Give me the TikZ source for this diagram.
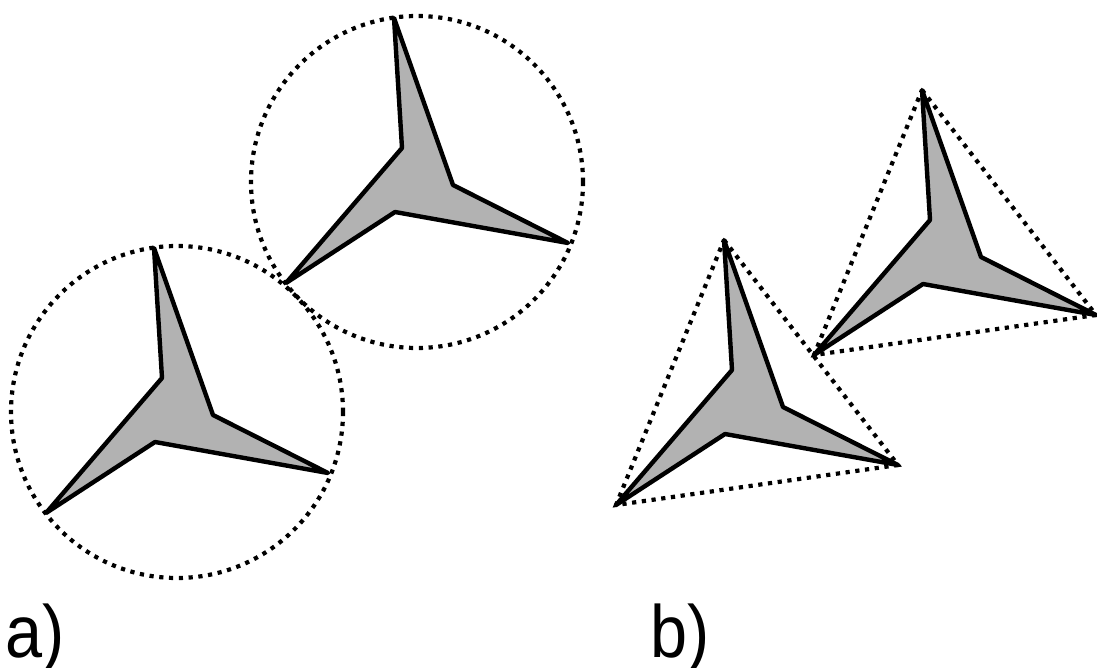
\documentclass[tikz,border=0pt]{standalone}
\usepackage{fontspec}
\setmainfont{Liberation Sans}

\begin{document}
\begin{tikzpicture}[
    x=1pt, y=-1pt,
    star/.style={draw, line width=4.4pt, line join=round, fill=black!30},
    hull/.style={line width=4.2pt, dash pattern=on 4.2pt off 5.6pt},
    lbl/.style={font=\fontsize{74}{80}\selectfont, anchor=base west, inner sep=0pt, xscale=0.9}
  ]
    \useasboundingbox (0,0) rectangle (1097,668);

    % a) each star inside its circle
    \foreach \n/\cx/\cy in {a1/177/412, a2/417/182} {
      \begin{scope}[shift={(\cx,\cy)}]
        \coordinate (\n-t)  at (-23,-164);
        \coordinate (\n-ir) at (36,3);
        \coordinate (\n-r)  at (151,61);
        \coordinate (\n-ib) at (-22,30);
        \coordinate (\n-l)  at (-131,101);
        \coordinate (\n-il) at (-15,-34);
        \draw[hull] (0,0) circle[radius=166];
        \draw[star] (\n-t) -- (\n-ir) -- (\n-r) -- (\n-ib) -- (\n-l) -- (\n-il) -- cycle;
      \end{scope}
    }

    % b) each star inside the triangle of its tips
    \foreach \n/\cx/\cy in {b1/747/404, b2/945/254} {
      \begin{scope}[shift={(\cx,\cy)}]
        \coordinate (\n-t)  at (-23,-164);
        \coordinate (\n-ir) at (36,3);
        \coordinate (\n-r)  at (151,61);
        \coordinate (\n-ib) at (-22,30);
        \coordinate (\n-l)  at (-131,101);
        \coordinate (\n-il) at (-15,-34);
        \draw[star] (\n-t) -- (\n-ir) -- (\n-r) -- (\n-ib) -- (\n-l) -- (\n-il) -- cycle;
        \draw[hull] (\n-t) -- (\n-r) -- (\n-l) -- cycle;
      \end{scope}
    }

    % Labels
    \node[lbl] (la) at (5,657) {a)};
    \node[lbl] (lb) at (650,657) {b)};
  \end{tikzpicture}
\end{document}
